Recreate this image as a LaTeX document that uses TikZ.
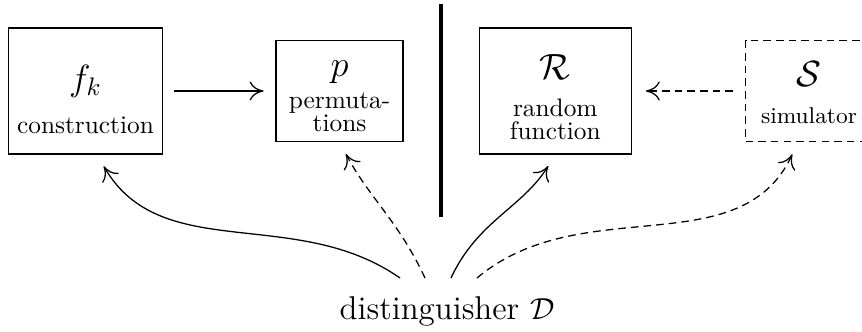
\documentclass[tikz,border=0pt]{standalone}
\usepackage{amsmath}
\usepackage{tikz}
\usetikzlibrary{arrows.meta, positioning, calc}
\newcommand{\uppad}[1]{\rule{0pt}{#1}}

\begin{document}
\begin{tikzpicture}[line width=0.5pt, >={To[length=5.5pt,width=7.5pt]},
  box/.style={draw, align=center, font=\fontsize{10}{9.2}\selectfont,
    minimum width=2.108cm, minimum height=1.748cm},
  sbox/.style={box, minimum width=1.761cm, minimum height=1.401cm},
  dsh/.style={dash pattern=on 3pt off 2pt}]
  \useasboundingbox (0,0) rectangle (11.956,-4.591);
  \node[box] (fk) at (1.186,-1.262) {\uppad{16.8pt}{\Large $f_k$}\\[6.8pt]construction};
  \node[sbox, right=1.56cm of fk] (p) {\uppad{10.4pt}{\Large $p$}\\[3.6pt]permuta-\\tions};
  \node[box, right=1.04cm of p] (R) {\uppad{14.6pt}{\Large $\mathcal{R}$}\\[5.4pt]random\\function};
  \node[sbox, dsh, right=1.567cm of R] (S) {\uppad{11.2pt}{\Large $\mathcal{S}$}\\[5.2pt]{\small simulator}};
  \node[anchor=base, font=\fontsize{13}{15}\selectfont] (dist) at (6.2,-4.438) {distinguisher $\mathcal{D}$};
  % the wall between the two worlds
  \coordinate (mid) at ($(p.east)!.5!(R.west)$);
  \draw[line width=1.6pt] ([yshift=1.207cm]mid) -- ([yshift=-1.748cm]mid);
  \draw[->, shorten <=4.5pt, shorten >=4.7pt] (fk) -- (p);
  \draw[->, dsh, shorten <=4.7pt, shorten >=5.5pt] (S) -- (R);
  % queries of the distinguisher
  \coordinate (d1) at ($(dist.base)+(-0.652,0.582)$);
  \coordinate (d2) at ($(dist.base)+(-0.305,0.582)$);
  \coordinate (d3) at ($(dist.base)+(0.055,0.582)$);
  \coordinate (d4) at ($(dist.base)+(0.416,0.582)$);
  \draw[->, shorten >=5.3pt] (d1) to[out=145, in=-60] ([xshift=0.16cm]fk.south);
  \draw[->, dsh, shorten >=5.3pt] (d2) to[out=115, in=-62] (p.south);
  \draw[->, shorten >=5.3pt] (d3) to[out=65, in=-122] (R.south);
  \draw[->, dsh, shorten >=5.3pt] (d4) to[out=40, in=-115] ([xshift=-0.153cm]S.south);
\end{tikzpicture}
\end{document}
